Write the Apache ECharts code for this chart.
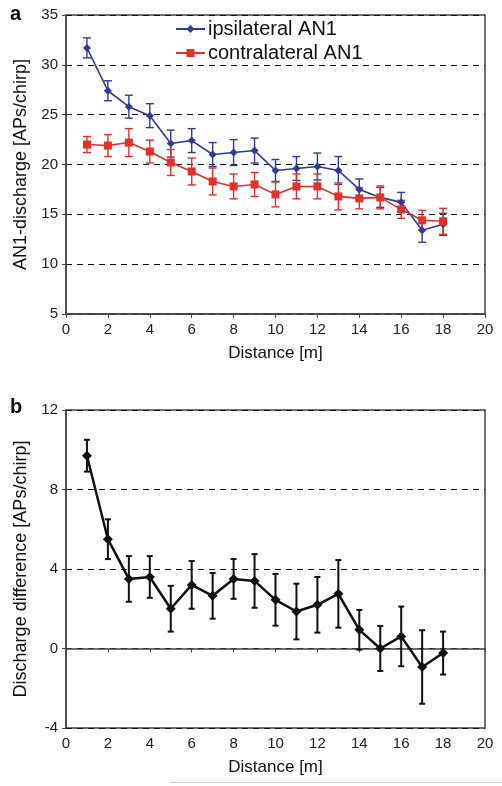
<!DOCTYPE html>
<html>
<head>
<meta charset="utf-8">
<script src="https://cdn.jsdelivr.net/npm/echarts@6/dist/echarts.min.js"></script>
<style>
html,body{margin:0;padding:0;background:#fff;}
#chart{width:502px;height:786px;}
</style>
</head>
<body>
<div id="chart"></div>
<script>
// ---- data ----
const distance = [1,2,3,4,5,6,7,8,9,10,11,12,13,14,15,16,17,18];
const ipsiMean = [31.7,27.4,25.8,24.9,22.1,22.4,21.0,21.2,21.4,19.4,19.6,19.8,19.4,17.5,16.7,16.2,13.4,14.0];
const ipsiErr  = [1.0,1.0,1.15,1.2,1.35,1.2,1.2,1.3,1.25,1.1,1.2,1.35,1.4,1.05,1.0,1.0,1.2,1.1];
const contraMean = [22.0,21.9,22.2,21.3,20.2,19.3,18.3,17.8,18.0,17.0,17.8,17.8,16.8,16.6,16.7,15.5,14.4,14.3];
const contraErr  = [0.8,1.1,1.4,1.15,1.3,1.35,1.35,1.25,1.2,1.25,1.25,1.25,1.35,1.05,1.15,0.9,1.0,1.3];
const diffMean = [9.7,5.5,3.5,3.6,2.0,3.2,2.65,3.5,3.4,2.45,1.86,2.2,2.75,0.94,0.0,0.61,-0.93,-0.23];
const diffErr  = [0.8,1.0,1.15,1.05,1.15,1.2,1.15,1.0,1.35,1.3,1.4,1.4,1.7,1.0,1.13,1.5,1.85,1.08];
const xTicks = {min:0, max:20, interval:2};
const yTicksA = {min:5, max:35, interval:5};
const yTicksB = {min:-4, max:12, interval:4};

const BLUE = '#2c3d97';
const RED = '#e2302a';
const FONT = 'Liberation Sans, Arial, Helvetica, sans-serif';

function errData(mean, err){
  return distance.map((d,i)=>[d, mean[i]-err[i], mean[i]+err[i]]);
}
function errRender(color, cap, lw){
  return function(params, api){
    const x = api.value(0), lo = api.value(1), hi = api.value(2);
    const p1 = api.coord([x, lo]), p2 = api.coord([x, hi]);
    const st = {stroke: color, lineWidth: lw};
    return {type:'group', children:[
      {type:'line', shape:{x1:p1[0], y1:p1[1], x2:p2[0], y2:p2[1]}, style:st},
      {type:'line', shape:{x1:p1[0]-cap, y1:p1[1], x2:p1[0]+cap, y2:p1[1]}, style:st},
      {type:'line', shape:{x1:p2[0]-cap, y1:p2[1], x2:p2[0]+cap, y2:p2[1]}, style:st}
    ]};
  };
}

const axisLineStyle = {show:true, lineStyle:{color:'#444', width:1.5}};
function xAxis(gridIndex){
  return {
    type:'value', gridIndex, min:xTicks.min, max:xTicks.max, interval:xTicks.interval,
    name:'Distance [m]', nameLocation:'middle', nameGap:31,
    nameTextStyle:{fontFamily:FONT, fontSize:17, color:'#111'},
    axisLine:axisLineStyle,
    axisTick:{show:true, length:4, lineStyle:{color:'#444'}},
    axisLabel:{fontFamily:FONT, fontSize:15, color:'#222', margin:8},
    splitLine:{show:false}
  };
}
function yAxis(gridIndex, t, name){
  return {
    type:'value', gridIndex, min:t.min, max:t.max, interval:t.interval,
    name, nameLocation:'middle', nameGap:36,
    nameTextStyle:{fontFamily:FONT, fontSize:18, color:'#111'},
    axisLine:axisLineStyle,
    axisTick:{show:true, length:4, lineStyle:{color:'#444'}},
    axisLabel:{fontFamily:FONT, fontSize:15, color:'#222', margin:8},
    splitLine:{show:true, lineStyle:{color:'#111', type:[6,5], width:1.2}}
  };
}

const chart = echarts.init(document.getElementById('chart'), null, {renderer:'canvas'});
chart.setOption({
  backgroundColor:'#fff',
  animation:false,
  grid:[
    {left:66, right:17, top:15, height:299, show:true, borderColor:'#444', borderWidth:1.5, backgroundColor:'transparent'},
    {left:66, right:17, top:410, height:318, show:true, borderColor:'#444', borderWidth:1.5, backgroundColor:'transparent'}
  ],
  xAxis:[xAxis(0), xAxis(1)],
  yAxis:[yAxis(0, yTicksA, 'AN1-discharge [APs/chirp]'), yAxis(1, yTicksB, 'Discharge difference [APs/chirp]')],
  legend:{
    data:['ipsilateral AN1','contralateral AN1'],
    orient:'vertical', left:175, top:19, padding:0,
    itemWidth:29, itemHeight:10, itemGap:4,
    textStyle:{fontFamily:FONT, fontSize:20, color:'#111', lineHeight:20, padding:[0,0,0,-2]}
  },
  graphic:[
    {type:'text', left:10, top:4, style:{text:'a', font:'bold 20px '+FONT, fill:'#111'}},
    {type:'text', left:10, top:397, style:{text:'b', font:'bold 20px '+FONT, fill:'#111'}},
    {type:'line', shape:{x1:170, y1:782.5, x2:502, y2:782.5}, style:{stroke:'#d0d0d0', lineWidth:1}}
  ],
  series:[
    {type:'custom', name:'ipsiErr', xAxisIndex:0, yAxisIndex:0, data:errData(ipsiMean, ipsiErr),
     encode:{x:0, y:[1,2]}, renderItem:errRender(BLUE, 4, 1.4), z:3},
    {type:'custom', name:'contraErr', xAxisIndex:0, yAxisIndex:0, data:errData(contraMean, contraErr),
     encode:{x:0, y:[1,2]}, renderItem:errRender(RED, 4, 1.4), z:3},
    {type:'line', name:'ipsilateral AN1', xAxisIndex:0, yAxisIndex:0,
     data:distance.map((d,i)=>[d, ipsiMean[i]]),
     symbol:'diamond', symbolSize:8, itemStyle:{color:BLUE}, lineStyle:{color:BLUE, width:1.6}, z:4},
    {type:'line', name:'contralateral AN1', xAxisIndex:0, yAxisIndex:0,
     data:distance.map((d,i)=>[d, contraMean[i]]),
     symbol:'rect', symbolSize:8, itemStyle:{color:RED}, lineStyle:{color:RED, width:1.6}, z:5},
    {type:'custom', name:'diffErr', xAxisIndex:1, yAxisIndex:1, data:errData(diffMean, diffErr),
     encode:{x:0, y:[1,2]}, renderItem:errRender('#111', 3, 2), z:3},
    {type:'line', name:'difference', xAxisIndex:1, yAxisIndex:1,
     data:distance.map((d,i)=>[d, diffMean[i]]),
     symbol:'diamond', symbolSize:10, itemStyle:{color:'#111'}, lineStyle:{color:'#111', width:2.5}, z:4}
  ]
});
</script>
</body>
</html>
